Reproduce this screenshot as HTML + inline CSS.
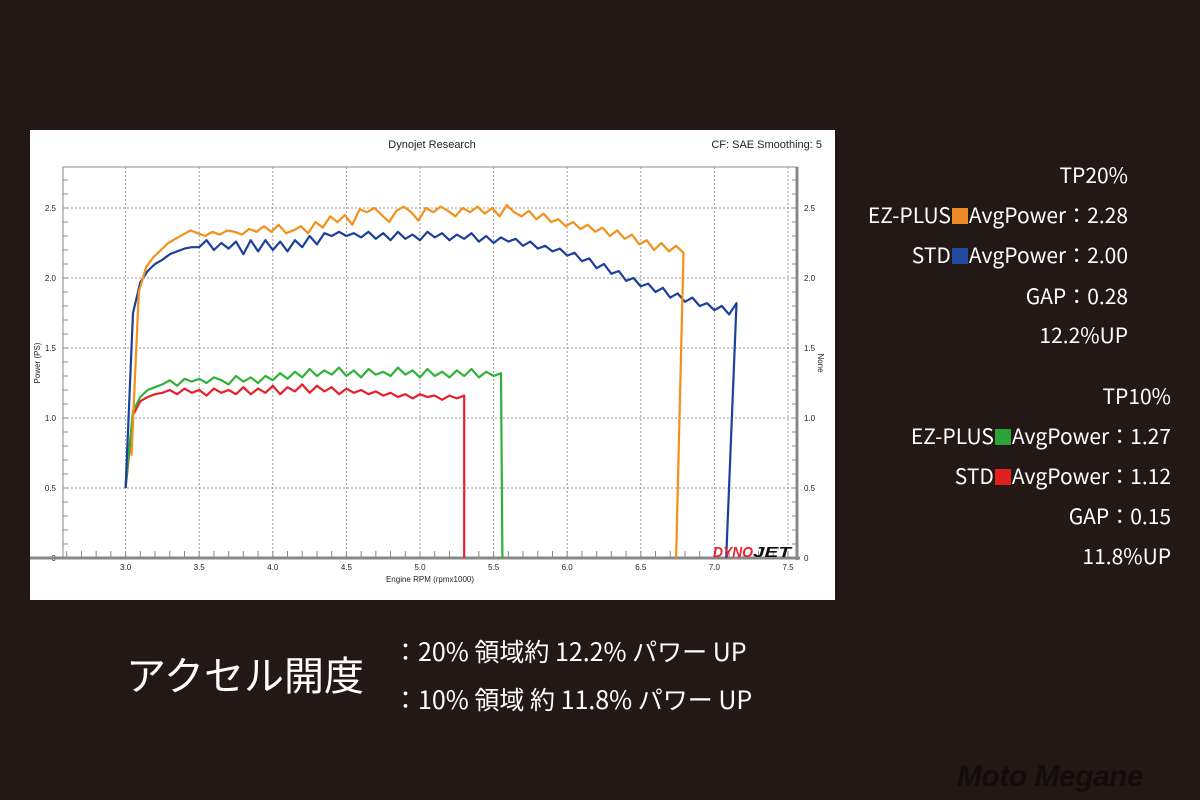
<!DOCTYPE html>
<html><head><meta charset="utf-8"><style>
html,body{margin:0;padding:0;background:#231815;width:1200px;height:800px;overflow:hidden}
.t{position:absolute;color:#fff;font-family:"Noto Sans CJK JP","Liberation Sans",sans-serif;font-size:21px;white-space:nowrap;text-align:right;line-height:26px}
.sq{display:inline-block;width:16px;height:16px;vertical-align:-1px;margin:0 1px}
</style></head><body>
<svg id="chart" width="1200" height="800" style="position:absolute;left:0;top:0" font-family="Liberation Sans, sans-serif">
<rect x="30" y="130" width="805" height="470" fill="#fff"/>
<text x="432" y="148" font-size="11" text-anchor="middle" fill="#222">Dynojet Research</text>
<text x="822" y="148" font-size="11" text-anchor="end" fill="#222">CF: SAE Smoothing: 5</text>
<g id="grid"></g><g id="axes"></g><g id="series"></g>
<text x="430" y="582" font-size="8" text-anchor="middle" fill="#222">Engine RPM (rpmx1000)</text>
<text transform="translate(40,363) rotate(-90)" font-size="8" text-anchor="middle" fill="#222">Power (PS)</text>
<text transform="translate(818,363) rotate(90)" font-size="8" text-anchor="middle" fill="#222">None</text>
<g font-family="Liberation Sans, sans-serif" font-weight="bold" font-style="italic" font-size="15">
<text x="713" y="557" fill="#e5202a" textLength="40" lengthAdjust="spacingAndGlyphs">DYNO</text>
<text x="753" y="557" fill="#111" textLength="38" lengthAdjust="spacingAndGlyphs">JET</text></g>
</svg>
<div class="t" style="right:72px;top:162px">TP20%</div>
<div class="t" style="right:72px;top:202px">EZ-PLUS<span class="sq" style="background:#ea8a28"></span>AvgPower：2.28</div>
<div class="t" style="right:72px;top:242px">STD<span class="sq" style="background:#1f4aa0"></span>AvgPower：2.00</div>
<div class="t" style="right:72px;top:283px">GAP：0.28</div>
<div class="t" style="right:72px;top:322px">12.2%UP</div>
<div class="t" style="right:29px;top:383px">TP10%</div>
<div class="t" style="right:29px;top:423px">EZ-PLUS<span class="sq" style="background:#2ca33a"></span>AvgPower：1.27</div>
<div class="t" style="right:29px;top:463px">STD<span class="sq" style="background:#e02020"></span>AvgPower：1.12</div>
<div class="t" style="right:29px;top:503px">GAP：0.15</div>
<div class="t" style="right:29px;top:543px">11.8%UP</div>
<div class="t" style="left:126px;top:648px;font-size:40px;line-height:50px;text-align:left">アクセル開度</div>
<div class="t" style="left:393px;top:636px;font-size:25px;line-height:30px;text-align:left">：20% 領域約 12.2% パワー UP</div>
<div class="t" style="left:393px;top:684px;font-size:25px;line-height:30px;text-align:left">：10% 領域 約 11.8% パワー UP</div>
<div style="position:absolute;left:957px;top:760px;font-family:'Liberation Sans',sans-serif;font-weight:bold;font-style:italic;font-size:30px;color:#120c0a;letter-spacing:-0.5px">Moto Megane</div>
<script>
const xTicks=[3.0,3.5,4.0,4.5,5.0,5.5,6.0,6.5,7.0,7.5];
const yTicks=[0,0.5,1.0,1.5,2.0,2.5];
const orangeStart=3.04, orangeDrop=6.74;
const orangeVals=[0.73,1.9,2.08,2.15,2.2,2.25,2.28,2.31,2.34,2.32,2.3,2.33,2.31,2.34,2.33,2.31,2.35,2.33,2.37,2.33,2.38,2.32,2.34,2.37,2.32,2.4,2.36,2.44,2.4,2.45,2.38,2.49,2.47,2.5,2.45,2.4,2.48,2.51,2.47,2.41,2.5,2.47,2.51,2.48,2.44,2.5,2.47,2.51,2.46,2.5,2.44,2.52,2.47,2.44,2.48,2.42,2.46,2.4,2.42,2.37,2.4,2.35,2.38,2.33,2.36,2.3,2.34,2.28,2.31,2.24,2.27,2.2,2.25,2.19,2.23,2.18];
const blueStart=3.0, blueDrop=7.08;
const blueVals=[0.5,1.75,1.97,2.05,2.1,2.13,2.17,2.19,2.21,2.22,2.22,2.27,2.2,2.25,2.21,2.26,2.17,2.27,2.19,2.27,2.2,2.26,2.19,2.27,2.22,2.3,2.24,2.32,2.3,2.33,2.3,2.32,2.29,2.33,2.28,2.32,2.27,2.33,2.28,2.31,2.27,2.33,2.29,2.32,2.27,2.31,2.28,2.32,2.26,2.3,2.25,2.29,2.26,2.28,2.23,2.26,2.21,2.23,2.19,2.21,2.16,2.18,2.12,2.14,2.07,2.1,2.03,2.05,1.98,2.0,1.94,1.96,1.9,1.93,1.86,1.89,1.83,1.86,1.8,1.82,1.77,1.8,1.74,1.82];
const greenStart=3.0, greenDrop=5.56;
const greenVals=[0.52,1.05,1.15,1.2,1.22,1.24,1.27,1.23,1.28,1.26,1.28,1.25,1.29,1.27,1.24,1.3,1.26,1.29,1.25,1.3,1.27,1.32,1.28,1.33,1.29,1.35,1.3,1.34,1.31,1.36,1.3,1.34,1.29,1.35,1.31,1.33,1.3,1.36,1.31,1.34,1.29,1.35,1.3,1.33,1.29,1.34,1.3,1.35,1.29,1.33,1.3,1.32];
const redStart=3.0, redDrop=5.3;
const redVals=[0.5,1.02,1.12,1.15,1.17,1.18,1.2,1.17,1.21,1.18,1.2,1.16,1.21,1.18,1.2,1.17,1.22,1.17,1.21,1.18,1.23,1.17,1.22,1.19,1.24,1.18,1.23,1.19,1.22,1.17,1.21,1.18,1.2,1.17,1.19,1.16,1.18,1.15,1.17,1.14,1.17,1.15,1.16,1.13,1.16,1.14,1.16];
const STEP=0.05;
const X=v=>125.6+(v-3)*147.2;
const Y=v=>558-v*140;
const NS='http://www.w3.org/2000/svg';
function mk(tag,attrs,parent){const e=document.createElementNS(NS,tag);for(const k in attrs)e.setAttribute(k,attrs[k]);parent.appendChild(e);return e;}
const grid=document.getElementById('grid'), axes=document.getElementById('axes'), ser=document.getElementById('series');
mk('rect',{x:63,y:167,width:734,height:391,fill:'none',stroke:'#888','stroke-width':1},grid);
xTicks.forEach(t=>{
  const l=mk('line',{x1:X(t),x2:X(t),y1:167,y2:558,stroke:'#999','stroke-dasharray':'2,2','stroke-width':1},grid);
  
  
  const tx=mk('text',{x:X(t),y:570,'font-size':8,'text-anchor':'middle',fill:'#222'},axes);
  tx.textContent=t.toFixed(1);
  
  
});
for(let v=2.6;v<=7.6;v+=0.1){const x=X(v);if(x<64||x>796)continue;mk('line',{x1:x,x2:x,y1:551,y2:558,stroke:'#888'},axes);}
yTicks.forEach(t=>{
  if(t>0){const l=mk('line',{x1:63,x2:797,y1:Y(t),y2:Y(t),stroke:'#999','stroke-dasharray':'2,2'},grid);
  
  }
  const a=mk('text',{x:56,y:Y(t)+3,'font-size':8,'text-anchor':'end',fill:'#222'},axes);
  a.textContent=t===0?'0':t.toFixed(1);
  
  
  const b=mk('text',{x:804,y:Y(t)+3,'font-size':8,fill:'#222'},axes);
  b.textContent=t===0?'0':t.toFixed(1);
  
  
});
for(let v=0.1;v<2.8;v+=0.1){mk('line',{x1:63,x2:68,y1:Y(v),y2:Y(v),stroke:'#888'},axes);mk('line',{x1:792,x2:797,y1:Y(v),y2:Y(v),stroke:'#888'},axes);}
mk('line',{x1:30,x2:800,y1:558,y2:558,stroke:'#888','stroke-width':3},axes);
mk('line',{x1:797,x2:797,y1:167,y2:560,stroke:'#888','stroke-width':3},axes);
function draw(start,vals,drop,color,name){
  let pts=vals.map((v,i)=>X(start+i*STEP).toFixed(1)+','+Y(v).toFixed(1));
  pts.push(X(drop).toFixed(1)+','+Y(0).toFixed(1));
  const p=mk('polyline',{points:pts.join(' '),fill:'none',stroke:color,'stroke-width':2.2,'stroke-linejoin':'round'},ser);
  
  
}
draw(redStart,redVals,redDrop,'#e5202a','std-tp10-line');
draw(greenStart,greenVals,greenDrop,'#2fb23a','ezplus-tp10-line');
draw(blueStart,blueVals,blueDrop,'#1d3f9c','std-tp20-line');
draw(orangeStart,orangeVals,orangeDrop,'#f39019','ezplus-tp20-line');
</script>
</body></html>
